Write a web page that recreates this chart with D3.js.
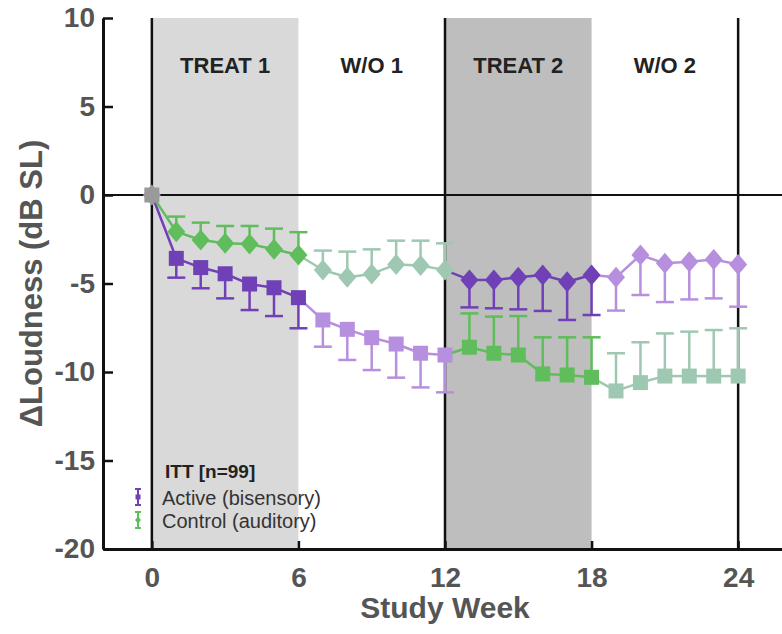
<!DOCTYPE html>
<html>
<head>
<meta charset="utf-8">
<script src="https://cdn.jsdelivr.net/npm/d3@7"></script>
<style>
  body { margin: 0; background: #fff; }
  #graf text { font-family: 'Liberation Sans', Arial, sans-serif; }
</style>
</head>
<body>
<div id="graf"></div>
<script>
// Loudness por semana de estudio (crossover)

// semanas
semanas = d3.range(0, 25)

// grupo de cuadrados: activo en TREAT 1, control en TREAT 2
cuadMedia = [0, -3.58, -4.1, -4.45, -5.03, -5.24, -5.8, -7.06, -7.59, -8.06, -8.42, -8.94, -9.04,
             -8.6, -8.94, -9.04, -10.11, -10.17, -10.3, -11.07, -10.6, -10.23, -10.23, -10.23, -10.23]
cuadError = [0, 1.09, 1.17, 1.39, 1.47, 1.6, 1.73, 1.51, 1.73, 1.83, 1.9, 1.93, 2.11,
             1.91, 2.07, 2.2, 2.07, 2.13, 2.26, 2.13, 2.28, 2.41, 2.51, 2.6, 2.7]

// grupo de rombos: control en TREAT 1, activo en TREAT 2
rombMedia = [0, -2.07, -2.54, -2.73, -2.77, -3.07, -3.39, -4.24, -4.65, -4.46, -3.92, -3.99, -4.24,
             -4.8, -4.8, -4.65, -4.52, -4.9, -4.52, -4.65, -3.39, -3.86, -3.77, -3.64, -3.92]
rombError = [0, 0.85, 0.98, 0.98, 1.02, 1.17, 1.29, 1.1, 1.45, 1.39, 1.34, 1.41, 1.51,
             1.55, 1.6, 1.81, 2.03, 2.16, 2.26, 1.88, 2.26, 2.19, 2.13, 2.2, 2.39]

// fases del estudio
faseNombres = ['TREAT 1', 'W/O 1', 'TREAT 2', 'W/O 2']
faseInicio  = [0, 6, 12, 18]
faseFin     = [6, 12, 18, 24]

ticksX = [0, 6, 12, 18, 24]
ticksY = [-20, -15, -10, -5, 0, 5, 10]

leyendaTitulo = 'ITT [n=99]'
leyendaTextos = ['Active (bisensory)', 'Control (auditory)']

// colores
colores = {
  act:  '#7040b6',
  actW: '#b68fde',
  ctl:  '#5fbd5b',
  ctlW: '#9fc8b2',
  gris: '#9a9a9a'
}
sombra = ['#d9d9d9', null, '#bebebe', null]

ancho_total = 782
alto_total  = 634

graf = d3.select('#graf')
svg = graf.append('svg')
          .attr('width', ancho_total)
          .attr('height', alto_total)

// escaladores
x = d3.scaleLinear().domain([-2, 26]).range([103, 787])
y = d3.scaleLinear().domain([-20, 10]).range([549, 18])

// fase de una semana (0..3)
function fase(s) {
  if (s <= 6) return 0
  if (s <= 12) return 1
  if (s <= 18) return 2
  return 3
}

// color segun grupo y semana
function colorPunto(grupo, s) {
  if (s == 0) return colores.gris
  f = fase(s)
  if (grupo == 'cuad') return [colores.act, colores.actW, colores.ctl, colores.ctlW][f]
  return [colores.ctl, colores.ctlW, colores.act, colores.actW][f]
}

// direccion de la barra de error
function direccion(grupo, s) {
  if (grupo == 'cuad') return s <= 12 ? -1 : 1
  return s <= 12 ? 1 : -1
}

// fondo de fases
faseNombres.forEach((n, i) => {
  if (sombra[i]) {
    svg.append('rect')
      .attr('x', x(faseInicio[i]))
      .attr('y', y(10))
      .attr('width', x(faseFin[i]) - x(faseInicio[i]))
      .attr('height', y(-20) - y(10))
      .attr('fill', sombra[i])
  }
})

// lineas verticales en 0, 12, 24
;[0, 12, 24].forEach(d => {
  svg.append('line')
    .attr('x1', x(d)).attr('x2', x(d))
    .attr('y1', y(10)).attr('y2', y(-20))
    .attr('stroke', '#111')
    .attr('stroke-width', 2.5)
})

// linea del cero
svg.append('line')
  .attr('x1', x(-2)).attr('x2', x(26))
  .attr('y1', y(0)).attr('y2', y(0))
  .attr('stroke', '#111')
  .attr('stroke-width', 2)

// ejes (con guion normal, no el signo menos unicode)
yAxis = d3.axisLeft(y)
          .tickValues(ticksY)
          .tickFormat(d => String(d))
          .tickSize(-10)
          .tickSizeOuter(0)
          .tickPadding(8)
xAxis = d3.axisBottom(x)
          .tickValues(ticksX)
          .tickFormat(d => String(d))
          .tickSize(-8)
          .tickSizeOuter(0)
          .tickPadding(18)

gy = svg.append('g')
  .attr('transform', `translate(${x(-2)},0)`)
  .call(yAxis)
gx = svg.append('g')
  .attr('transform', `translate(0,${y(-20)})`)
  .call(xAxis)

;[gx, gy].forEach(g => {
  g.select('.domain').attr('stroke', '#111').attr('stroke-width', 3)
  g.selectAll('.tick line').attr('stroke', '#111').attr('stroke-width', 2.5)
  g.selectAll('.tick text')
    .attr('fill', '#555')
    .attr('font-size', '28px')
    .attr('font-weight', 'bold')
})

// titulos de ejes
svg.append('text')
  .attr('x', x(12))
  .attr('y', 618)
  .attr('text-anchor', 'middle')
  .attr('font-size', '30px')
  .attr('font-weight', 'bold')
  .attr('fill', '#555')
  .text('Study Week')

svg.append('text')
  .attr('transform', `translate(42,${(y(10) + y(-20)) / 2}) rotate(-90)`)
  .attr('text-anchor', 'middle')
  .attr('font-size', '31px')
  .attr('font-weight', 'bold')
  .attr('fill', '#555')
  .text('\u0394Loudness (dB SL)')

// nombres de fases
faseNombres.forEach((n, i) => {
  svg.append('text')
    .attr('x', x((faseInicio[i] + faseFin[i]) / 2))
    .attr('y', 73)
    .attr('text-anchor', 'middle')
    .attr('font-size', '22px')
    .attr('font-weight', 'bold')
    .attr('fill', '#222')
    .text(n)
})

// marcadores
function cuadrado(g, cx, cy, lado, color) {
  g.append('rect')
    .attr('x', cx - lado / 2)
    .attr('y', cy - lado / 2)
    .attr('width', lado)
    .attr('height', lado)
    .attr('fill', color)
}
function rombo(g, cx, cy, a, h, color) {
  g.append('path')
    .attr('d', `M${cx},${cy - h}L${cx + a},${cy}L${cx},${cy + h}L${cx - a},${cy}Z`)
    .attr('fill', color)
}

series = [
  {grupo: 'cuad', media: cuadMedia, error: cuadError},
  {grupo: 'romb', media: rombMedia, error: rombError}
]

capa = svg.append('g')

// segmentos (color del punto de llegada)
series.forEach(serie => {
  semanas.slice(1).forEach(s => {
    capa.append('line')
      .attr('x1', x(s - 1)).attr('y1', y(serie.media[s - 1]))
      .attr('x2', x(s)).attr('y2', y(serie.media[s]))
      .attr('stroke', colorPunto(serie.grupo, s))
      .attr('stroke-width', 2.5)
  })
})

// barras de error y puntos
series.forEach(serie => {
  semanas.forEach(s => {
    c = colorPunto(serie.grupo, s)
    if (s > 0) {
      fin = serie.media[s] + direccion(serie.grupo, s) * serie.error[s]
      capa.append('line')
        .attr('x1', x(s)).attr('x2', x(s))
        .attr('y1', y(serie.media[s])).attr('y2', y(fin))
        .attr('stroke', c)
        .attr('stroke-width', 2.5)
      capa.append('line')
        .attr('x1', x(s) - 9).attr('x2', x(s) + 9)
        .attr('y1', y(fin)).attr('y2', y(fin))
        .attr('stroke', c)
        .attr('stroke-width', 2.5)
    }
    if (serie.grupo == 'cuad') cuadrado(capa, x(s), y(serie.media[s]), 15, c)
    else rombo(capa, x(s), y(serie.media[s]), 9, 10.5, c)
  })
})

// leyenda
svg.append('text')
  .attr('x', 165)
  .attr('y', 478)
  .attr('font-size', '19px')
  .attr('font-weight', 'bold')
  .attr('fill', '#222')
  .text(leyendaTitulo)

leyendaTextos.forEach((t, i) => {
  cy = 497 + i * 23
  c = i == 0 ? colores.act : colores.ctl
  svg.append('line')
    .attr('x1', 138).attr('x2', 138)
    .attr('y1', cy - 8).attr('y2', cy + 8)
    .attr('stroke', c).attr('stroke-width', 2)
  ;[cy - 8, cy + 8].forEach(yy => {
    svg.append('line')
      .attr('x1', 135).attr('x2', 141)
      .attr('y1', yy).attr('y2', yy)
      .attr('stroke', c).attr('stroke-width', 2)
  })
  if (i == 0) cuadrado(svg, 138, cy, 5, c)
  else rombo(svg, 138, cy, 3, 3.5, c)

  svg.append('text')
    .attr('x', 162)
    .attr('y', cy + 8)
    .attr('font-size', '20px')
    .attr('fill', '#333')
    .text(t)
})
</script>
</body>
</html>
